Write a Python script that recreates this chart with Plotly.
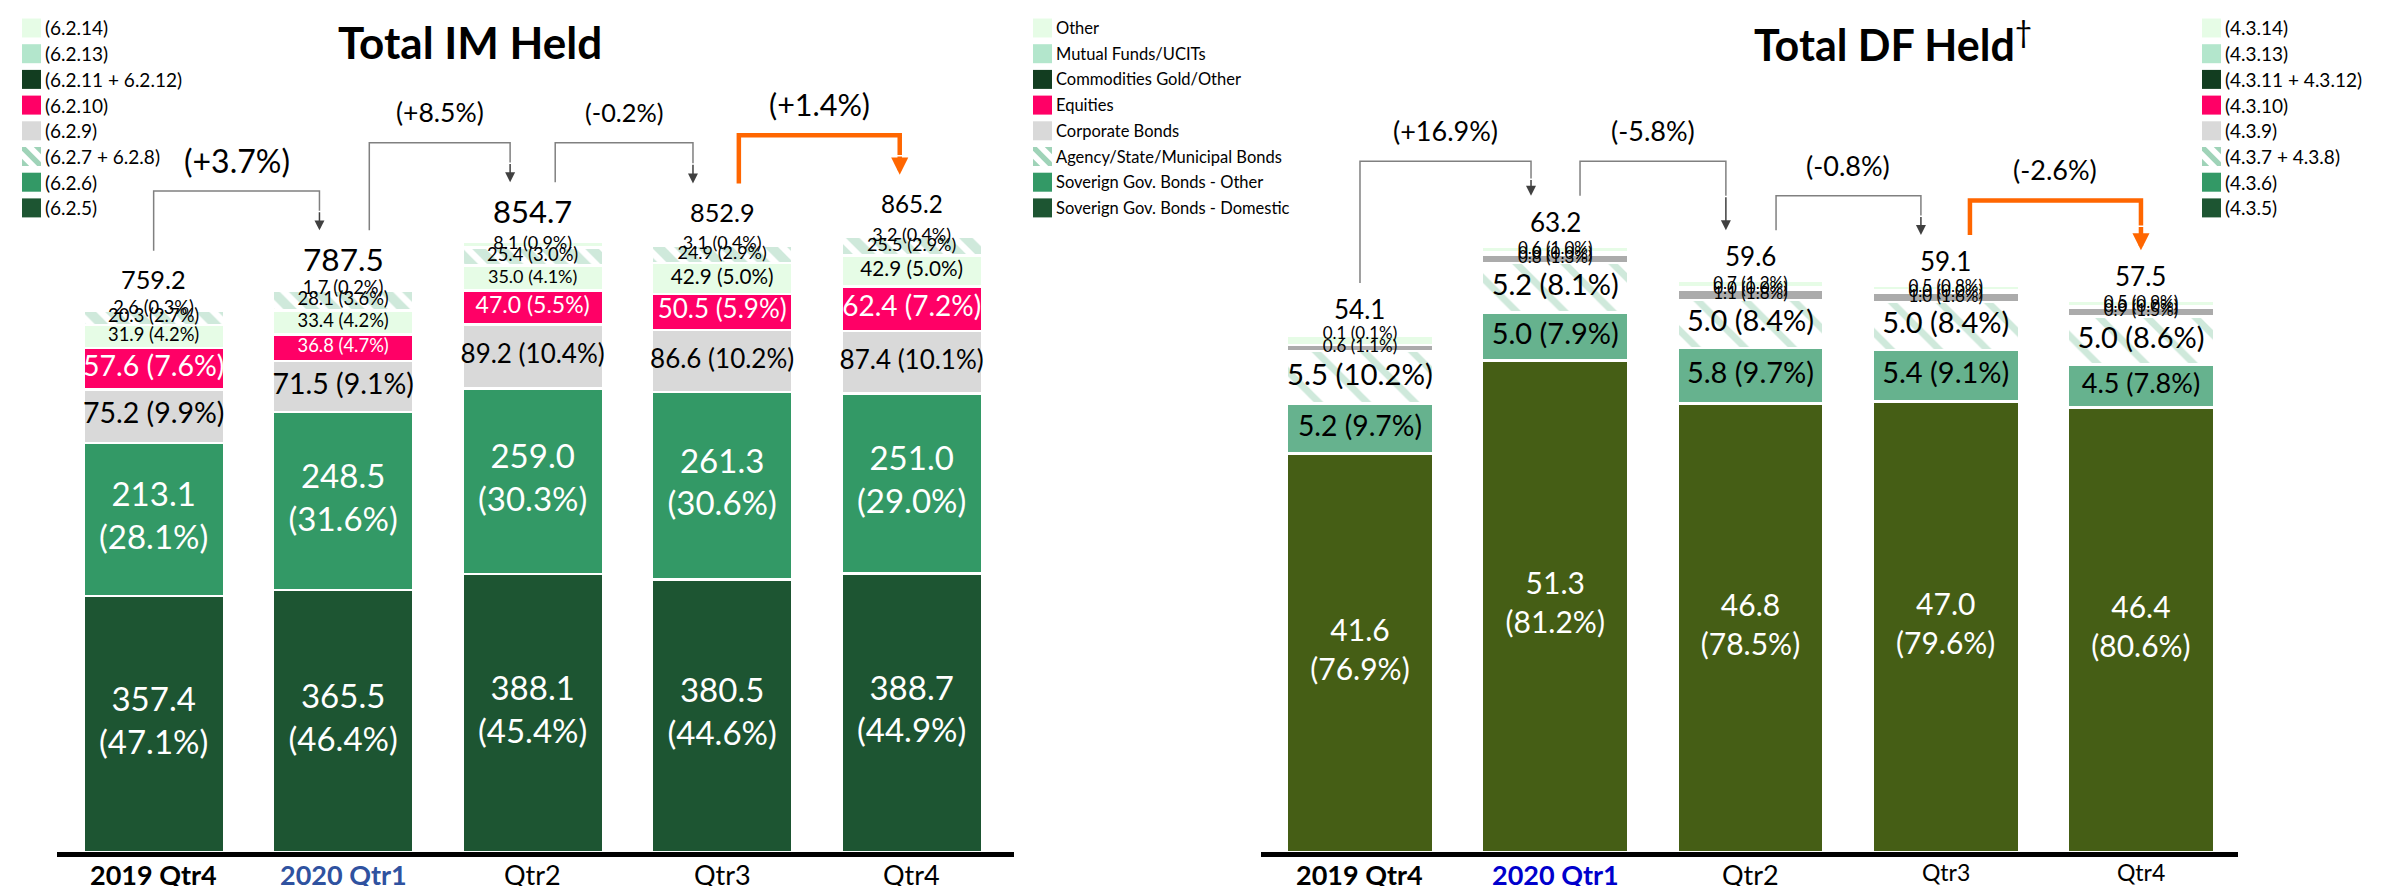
import plotly.graph_objects as go

# ---------------- data ----------------
cats = ["2019 Qtr4", "2020 Qtr1", "Qtr2", "Qtr3", "Qtr4"]

# Total IM Held (left)
im_total = [759.2, 787.5, 854.7, 852.9, 865.2]
im_change = ["(+3.7%)", "(+8.5%)", "(-0.2%)", "(+1.4%)"]
im_dom = [357.4, 365.5, 388.1, 380.5, 388.7]
im_dom_pct = [47.1, 46.4, 45.4, 44.6, 44.9]
im_sov_other = [213.1, 248.5, 259.0, 261.3, 251.0]
im_sov_other_pct = [28.1, 31.6, 30.3, 30.6, 29.0]
im_corp = [75.2, 71.5, 89.2, 86.6, 87.4]
im_corp_pct = [9.9, 9.1, 10.4, 10.2, 10.1]
im_equity = [57.6, 36.8, 47.0, 50.5, 62.4]
im_equity_pct = [7.6, 4.7, 5.5, 5.9, 7.2]
im_other = [31.9, 33.4, 35.0, 42.9, 42.9]
im_other_pct = [4.2, 4.2, 4.1, 5.0, 5.0]
im_agency = [20.3, 28.1, 25.4, 24.9, 25.5]
im_agency_pct = [2.7, 3.6, 3.0, 2.9, 2.9]
im_funds = [2.6, 1.7, 8.1, 3.1, 3.2]
im_funds_pct = [0.3, 0.2, 0.9, 0.4, 0.4]

# Total DF Held (right)
df_total = [54.1, 63.2, 59.6, 59.1, 57.5]
df_change = ["(+16.9%)", "(-5.8%)", "(-0.8%)", "(-2.6%)"]
df_dom = [41.6, 51.3, 46.8, 47.0, 46.4]
df_dom_pct = [76.9, 81.2, 78.5, 79.6, 80.6]
df_sov_other = [5.2, 5.0, 5.8, 5.4, 4.5]
df_sov_other_pct = [9.7, 7.9, 9.7, 9.1, 7.8]
df_agency = [5.5, 5.2, 5.0, 5.0, 5.0]
df_agency_pct = [10.2, 8.1, 8.4, 8.4, 8.6]
df_corp = [0.6, 0.8, 1.1, 1.0, 0.9]
df_corp_pct = [1.1, 1.3, 1.8, 1.6, 1.5]
df_equity = [None, 0.0, 0.0, 0.0, 0.0]
df_equity_pct = [None, 0.0, 0.0, 0.0, 0.0]
df_funds = [1.0, 0.3, 0.2, 0.2, 0.2]
df_other = [0.1, 0.6, 0.7, 0.5, 0.5]
df_other_pct = [0.1, 1.0, 1.2, 0.8, 0.9]

# legend labels
im_codes = ["(6.2.14)", "(6.2.13)", "(6.2.11 + 6.2.12)", "(6.2.10)", "(6.2.9)",
            "(6.2.7 + 6.2.8)", "(6.2.6)", "(6.2.5)"]
asset_classes = ["Other", "Mutual Funds/UCITs", "Commodities Gold/Other", "Equities",
                 "Corporate Bonds", "Agency/State/Municipal Bonds",
                 "Soverign Gov. Bonds - Other", "Soverign Gov. Bonds - Domestic"]
df_codes = ["(4.3.14)", "(4.3.13)", "(4.3.11 + 4.3.12)", "(4.3.10)", "(4.3.9)",
            "(4.3.7 + 4.3.8)", "(4.3.6)", "(4.3.5)"]

# ---------------- styles ----------------
W, H = 2384, 886
FONT = "Lato"
C_DOM = "#1D5532"
C_SOV = "#339966"
C_CORP = "#D9D9D9"
C_EQ = "#FF0066"
C_OTHER = "#E6FCE6"
C_FUNDS = "#B3E6CC"
C_COMM = "#123D20"
C_HATCH = "#9FD3B8"
C_DF_DOM = "#455E15"
C_DF_SOV = "#66B28E"
C_DF_CORP = "#ABABAB"
ORANGE = "#FF6600"

xpos = list(range(len(cats)))


def seg_text(vals, pcts, two_line=False):
    out = []
    for v, p in zip(vals, pcts):
        if v is None or p is None:
            out.append("")
        elif two_line:
            out.append(f"{v:.1f}<br>({p:.1f}%)")
        else:
            out.append(f"{v:.1f} ({p:.1f}%)")
    return out


fig = go.Figure()
L = ("x", "y")
R = ("x2", "y2")
WL, WR = 0.74, 0.75

hatch_left = dict(shape="\\", fgcolor=C_HATCH, bgcolor="white", size=16, solidity=0.6)
hatch_right = dict(shape="\\", fgcolor=C_HATCH, bgcolor="white", size=34, solidity=0.2)


def add_stack(series, axis, width):
    """series: list of (values, text, color, pattern, font sizes, font color)"""
    xa, ya = axis
    base = [0.0] * len(xpos)
    labels = []
    for vals, text, color, pattern, fsize, fcolor in series:
        marker = dict(color=color, line=dict(color="white", width=2.5))
        if pattern:
            marker["pattern"] = pattern
        fig.add_trace(go.Bar(x=xpos, y=vals, marker=marker, width=width, xaxis=xa, yaxis=ya,
                             showlegend=False, hoverinfo="skip"))
        mids, txt, xs, fs = [], [], [], []
        for i, v in enumerate(vals):
            if v is None:
                continue
            mid = base[i] + v / 2
            base[i] += v
            if text is not None and text[i]:
                xs.append(xpos[i])
                mids.append(mid)
                txt.append(text[i])
                fs.append(fsize[i] if isinstance(fsize, list) else fsize)
        if xs:
            labels.append(go.Scatter(x=xs, y=mids, mode="text", text=txt,
                                     textposition="middle center",
                                     textfont=dict(size=fs, color=fcolor, family=FONT),
                                     xaxis=xa, yaxis=ya, showlegend=False, hoverinfo="skip",
                                     cliponaxis=False))
    for t in labels:
        fig.add_trace(t)


add_stack([
    (im_dom, seg_text(im_dom, im_dom_pct, True), C_DOM, None, 33, "white"),
    (im_sov_other, seg_text(im_sov_other, im_sov_other_pct, True), C_SOV, None, 33, "white"),
    (im_corp, seg_text(im_corp, im_corp_pct), C_CORP, None, [28.5, 28.5, 26, 26, 26], "black"),
    (im_equity, seg_text(im_equity, im_equity_pct), C_EQ, None, [28.5, 18.4, 23, 26, 28], "white"),
    (im_other, seg_text(im_other, im_other_pct), C_OTHER, None, [18.4, 18.4, 18, 20.7, 20.7], "black"),
    (im_agency, seg_text(im_agency, im_agency_pct), "white", hatch_left, [18.4, 18.4, 18.4, 18, 18], "black"),
    (im_funds, seg_text(im_funds, im_funds_pct), C_OTHER, None, [18.4, 18.4, 18, 18, 18], "black"),
], L, WL)

add_stack([
    (df_dom, seg_text(df_dom, df_dom_pct, True), C_DF_DOM, None, 30, "white"),
    (df_sov_other, seg_text(df_sov_other, df_sov_other_pct), C_DF_SOV, None, [28.3, 29, 29, 29, 27], "black"),
    (df_agency, seg_text(df_agency, df_agency_pct), "white", hatch_right, [29.4, 29, 29, 29, 29], "black"),
    (df_corp, seg_text(df_corp, df_corp_pct), C_DF_CORP, None, 17, "black"),
    (df_equity, seg_text(df_equity, df_equity_pct), C_EQ, None, 17, "black"),
    (df_funds, None, C_OTHER, None, 17, "black"),
    (df_other, seg_text(df_other, df_other_pct), C_OTHER, None, 17, "black"),
], R, WR)

ann = []
shapes = []

# ---------------- legends (swatches + labels) ----------------
legend_colors = [C_OTHER, C_FUNDS, C_COMM, C_EQ, C_CORP, None, C_SOV, C_DOM]
LEG_ROW0, LEG_PITCH, SW = 20, 25.7, 19


def px(xp, yp):
    return xp / W, 1 - yp / H


def clip_poly(poly, x0, y0, x1, y1):
    def clip(pts, inside, inter):
        out = []
        for i in range(len(pts)):
            cur, prev = pts[i], pts[i - 1]
            if inside(cur):
                if not inside(prev):
                    out.append(inter(prev, cur))
                out.append(cur)
            elif inside(prev):
                out.append(inter(prev, cur))
        return out

    def ix(xc):
        return lambda p, q: (xc, p[1] + (q[1] - p[1]) * (xc - p[0]) / (q[0] - p[0]))

    def iy(yc):
        return lambda p, q: (p[0] + (q[0] - p[0]) * (yc - p[1]) / (q[1] - p[1]), yc)

    pts = clip(poly, lambda p: p[0] >= x0, ix(x0))
    pts = clip(pts, lambda p: p[0] <= x1, ix(x1))
    pts = clip(pts, lambda p: p[1] >= y0, iy(y0))
    pts = clip(pts, lambda p: p[1] <= y1, iy(y1))
    return pts


for sx, names, fs in ((14, im_codes, 19), (1025, asset_classes, 16.5), (2194, df_codes, 19)):
    for k, (name, col) in enumerate(zip(names, legend_colors)):
        yc = LEG_ROW0 + LEG_PITCH * k
        x0, x1, y0, y1 = sx, sx + SW, yc - SW / 2, yc + SW / 2
        a0, b0 = px(x0, y1)
        a1, b1 = px(x1, y0)
        shapes.append(dict(type="rect", xref="paper", yref="paper", x0=a0, x1=a1, y0=b0, y1=b1,
                           fillcolor=col if col else "white", line=dict(width=0), layer="above"))
        if col is None:
            for lo, hi in ((-SW, -0.62 * SW), (-0.2 * SW, 0.2 * SW), (0.62 * SW, SW)):
                band = [(x0 + lo - SW, y0 - SW), (x0 + lo + 2 * SW, y0 + 2 * SW),
                        (x0 + hi + 2 * SW, y0 + 2 * SW), (x0 + hi - SW, y0 - SW)]
                pts = clip_poly(band, x0, y0, x1, y1)
                if len(pts) >= 3:
                    path = "M " + " L ".join(f"{px(p[0], p[1])[0]},{px(p[0], p[1])[1]}" for p in pts) + " Z"
                    shapes.append(dict(type="path", xref="paper", yref="paper", path=path,
                                       fillcolor=C_HATCH, line=dict(width=0), layer="above"))
        tx, ty = px(x1 + 2, yc)
        ann.append(dict(x=tx, y=ty, xref="paper", yref="paper", text=name, showarrow=False,
                        xanchor="left", yanchor="middle",
                        font=dict(size=fs, family=FONT, color="black")))

# ---------------- totals ----------------
im_total_sizes = [25.3, 31.6, 31, 25.3, 24.2]
for i, t in enumerate(im_total):
    ann.append(dict(x=i, y=t, xref="x", yref="y", text=f"{t:.1f}", showarrow=False,
                    yanchor="middle", yshift=29,
                    font=dict(size=im_total_sizes[i], family=FONT, color="black")))
for i, t in enumerate(df_total):
    ann.append(dict(x=i, y=t, xref="x2", yref="y2", text=f"{t:.1f}", showarrow=False,
                    yanchor="middle", yshift=25,
                    font=dict(size=26, family=FONT, color="black")))


# ---------------- change brackets ----------------
def brackets(totals, labels, xr, yr, x0_off, x1_off, start_off, rise, gap, lsizes, orange_last):
    n = len(labels)
    for i in range(n):
        is_or = orange_last and i == n - 1
        col = ORANGE if is_or else "#808080"
        lw = 4.5 if is_or else 1.5
        x0 = i + x0_off[i]
        x1 = i + 1 + x1_off[i]
        ys = totals[i] + start_off
        yt = totals[i + 1] + start_off
        ytop = max(ys, yt) + rise
        ymid = (ytop + yt) / 2
        shapes.append(dict(type="path", xref=xr, yref=yr,
                           path=f"M {x0},{ys} L {x0},{ytop} L {x1},{ytop} L {x1},{ymid}",
                           line=dict(color=col, width=lw)))
        ann.append(dict(x=x1, y=yt, ax=x1, ay=ymid, xref=xr, yref=yr, axref=xr, ayref=yr,
                        text="", showarrow=True, arrowhead=2,
                        arrowsize=0.76 if is_or else 1.33, arrowwidth=lw,
                        arrowcolor=ORANGE if is_or else "#404040", standoff=0))
        ann.append(dict(x=(x0 + x1) / 2, y=ytop + gap, xref=xr, yref=yr, text=labels[i],
                        showarrow=False, yanchor="middle",
                        font=dict(size=lsizes[i], family=FONT, color="black")))


brackets(im_total, im_change, "x", "y", [0.0, 0.138, 0.119, 0.088], [-0.125, -0.119, -0.154, -0.063],
         80, 55, 43, [32, 26.5, 25.3, 30.5], True)
brackets(df_total, df_change, "x2", "y2", [0.0, 0.127, 0.131, 0.124], [-0.124, -0.126, -0.127, 0.0],
         5.3, 3.6, 3.2, [27, 27, 27, 27], True)

# ---------------- category labels (below the axis) ----------------
left_ticks = ["<b>" + cats[0] + "</b>", "<b><span style='color:#2F52A0'>" + cats[1] + "</span></b>"] + cats[2:]
right_ticks = ["<b>" + cats[0] + "</b>", "<b><span style='color:#0000CC'>" + cats[1] + "</span></b>"] + cats[2:]
right_tick_sizes = [27, 27, 27, 23, 23]
for i in xpos:
    ann.append(dict(x=i, y=0, xref="x", yref="y", text=left_ticks[i], showarrow=False,
                    yanchor="top", yshift=-4, font=dict(size=27, family=FONT, color="black")))
    ann.append(dict(x=i, y=0, xref="x2", yref="y2", text=right_ticks[i], showarrow=False,
                    yanchor="top", yshift=-4,
                    font=dict(size=right_tick_sizes[i], family=FONT, color="black")))

# ---------------- titles ----------------
ann.append(dict(x=462 / W, y=1 - 34 / H, xref="paper", yref="paper", text="<b>Total IM Held</b>",
                showarrow=False, xanchor="center", yanchor="middle",
                font=dict(size=44, family=FONT, color="black")))
ann.append(dict(x=1885 / W, y=1 - 34 / H, xref="paper", yref="paper",
                text="<b>Total DF Held</b><sup>†</sup>",
                showarrow=False, xanchor="center", yanchor="middle",
                font=dict(size=43, family=FONT, color="black")))

axis_common = dict(showline=True, linecolor="black", linewidth=5, ticks="", showgrid=False,
                   zeroline=False, showticklabels=False, fixedrange=True)
ybase = 42 / H

fig.update_layout(
    width=W, height=H, barmode="stack",
    margin=dict(l=0, r=0, t=0, b=0),
    paper_bgcolor="white", plot_bgcolor="white",
    font=dict(family=FONT, color="black"),
    xaxis=dict(domain=[49 / W, 1006 / W], range=[-0.51, 4.54], anchor="y", **axis_common),
    yaxis=dict(domain=[ybase, 1], range=[0, 1177.8], visible=False, fixedrange=True, anchor="x"),
    xaxis2=dict(domain=[1253 / W, 2230 / W], range=[-0.507, 4.497], anchor="y2", **axis_common),
    yaxis2=dict(domain=[ybase, 1], range=[0, 88.1], visible=False, fixedrange=True, anchor="x2"),
    shapes=shapes, annotations=ann, showlegend=False,
)

fig.write_html("out.html")
